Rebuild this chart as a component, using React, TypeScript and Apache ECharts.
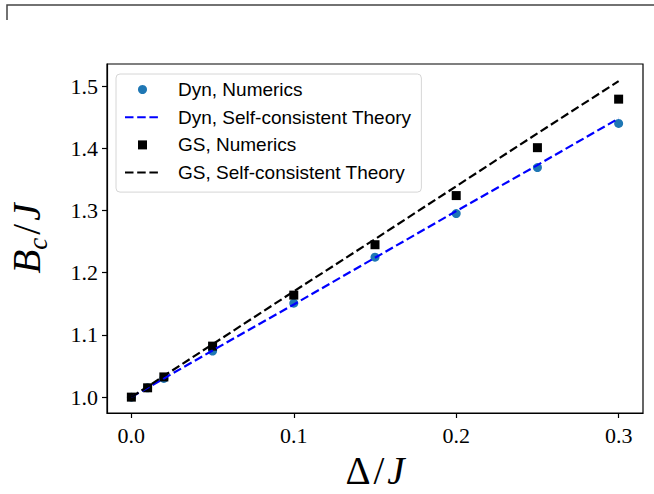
import React, { useEffect, useRef } from "react";
import * as echarts from "echarts";

const xVals = [0, 0.01, 0.02, 0.05, 0.1, 0.15, 0.2, 0.25, 0.3];
const dynNumerics = [1.0, 1.015, 1.03, 1.074, 1.151, 1.225, 1.295, 1.369, 1.44];
const gsNumerics = [1.0, 1.015, 1.0325, 1.082, 1.164, 1.245, 1.324, 1.401, 1.479];
const dynTheory = [1.0, 1.015, 1.03, 1.075, 1.149, 1.224, 1.299, 1.373, 1.448];
const gsTheory = [1.0, 1.017, 1.034, 1.085, 1.17, 1.254, 1.339, 1.424, 1.508];
const xTicks = [0, 0.1, 0.2, 0.3];
const yTicks = [1.0, 1.1, 1.2, 1.3, 1.4, 1.5];
const seriesNames = [
  "Dyn, Numerics",
  "Dyn, Self-consistent Theory",
  "GS, Numerics",
  "GS, Self-consistent Theory",
];

const pair = (ys: number[]) => xVals.map((x, i) => [x, ys[i]]);

export default function App() {
  const ref = useRef<HTMLDivElement>(null);
  useEffect(() => {
    if (!ref.current) return;
    const chart = echarts.init(ref.current, undefined, { renderer: "svg" });
    const serif = "'Liberation Serif', serif";
    const nameSize = 39;
    chart.setOption({
      animation: false,
      backgroundColor: "#fff",
      grid: {
        left: 107,
        right: 11,
        top: 64,
        bottom: 81,
        show: true,
        borderColor: "#000",
        borderWidth: 1.2,
        outerBoundsMode: "none",
      },
      legend: {
        orient: "vertical",
        left: 116,
        top: 74,
        padding: [6, 10, 10, 8],
        itemWidth: 35,
        itemHeight: 9,
        itemGap: 8.7,
        backgroundColor: "rgba(255,255,255,0.8)",
        borderColor: "#d6d6d6",
        borderWidth: 1,
        borderRadius: 4,
        symbolKeepAspect: true,
        textStyle: {
          fontFamily: "'Liberation Sans', Arial, sans-serif",
          fontSize: 19,
          color: "#000",
          padding: [0, 0, 0, 13],
        },
        data: [
          { name: seriesNames[0], icon: "circle" },
          { name: seriesNames[1], itemStyle: { opacity: 0 } },
          { name: seriesNames[2], icon: "path://M0,0H10V10H0Z" },
          { name: seriesNames[3], itemStyle: { opacity: 0 } },
        ],
      },
      xAxis: {
        type: "value",
        min: -0.015,
        max: 0.315,
        name: "{u|Δ}{s|/}{i|J}",
        nameLocation: "middle",
        nameGap: 30,
        nameTextStyle: {
          rich: {
            u: { fontFamily: serif, fontSize: nameSize, color: "#000" },
            s: { fontFamily: serif, fontSize: nameSize, color: "#000", padding: [0, 3, 0, 3] },
            i: { fontFamily: serif, fontSize: nameSize, fontStyle: "italic", color: "#000" },
          },
        },
        axisLine: { show: true, onZero: false, lineStyle: { color: "#000", width: 1.2 } },
        axisTick: { show: true, length: 5, customValues: xTicks, lineStyle: { color: "#000", width: 1.2 } },
        axisLabel: {
          customValues: xTicks,
          formatter: (v: number) => v.toFixed(1),
          fontFamily: serif,
          fontSize: 22,
          color: "#000",
          margin: 11,
        },
        splitLine: { show: false },
      },
      yAxis: {
        type: "value",
        min: 0.9745,
        max: 1.5355,
        name: "{i|B}{c|c}{s|/}{i|J}",
        nameLocation: "middle",
        nameGap: 56,
        nameRotate: 90,
        nameTextStyle: {
          rich: {
            s: { fontFamily: serif, fontSize: nameSize, color: "#000", padding: [0, 3, 0, 3] },
            i: { fontFamily: serif, fontSize: nameSize, fontStyle: "italic", color: "#000" },
            c: {
              fontFamily: serif,
              fontSize: 27,
              fontStyle: "italic",
              color: "#000",
              padding: [22, 0, 0, 0],
            },
          },
        },
        axisLine: { show: true, onZero: false, lineStyle: { color: "#000", width: 1.2 } },
        axisTick: { show: true, length: 5, customValues: yTicks, lineStyle: { color: "#000", width: 1.2 } },
        axisLabel: {
          customValues: yTicks,
          formatter: (v: number) => v.toFixed(1),
          fontFamily: serif,
          fontSize: 22,
          color: "#000",
          margin: 9,
        },
        splitLine: { show: false },
      },
      graphic: [
        {
          type: "polyline",
          shape: { points: [[7, 20], [7, 5], [654, 5]] },
          style: { stroke: "#444", lineWidth: 1.5, fill: null },
        },
      ],
      series: [
        {
          name: seriesNames[0],
          type: "scatter",
          data: pair(dynNumerics),
          symbol: "circle",
          symbolSize: 9,
          itemStyle: { color: "#1f77b4", opacity: 1 },
          emphasis: { disabled: true },
        },
        {
          name: seriesNames[1],
          type: "line",
          data: pair(dynTheory),
          symbol: "none",
          lineStyle: { color: "#0000ff", width: 2.2, type: [8.5, 3.7] },
          itemStyle: { color: "#0000ff" },
          emphasis: { disabled: true },
        },
        {
          name: seriesNames[2],
          type: "scatter",
          data: pair(gsNumerics),
          symbol: "rect",
          symbolSize: 9,
          itemStyle: { color: "#000", opacity: 1 },
          emphasis: { disabled: true },
        },
        {
          name: seriesNames[3],
          type: "line",
          data: pair(gsTheory),
          symbol: "none",
          lineStyle: { color: "#000", width: 2.2, type: [8.5, 3.7] },
          itemStyle: { color: "#000" },
          emphasis: { disabled: true },
        },
      ],
    });
    return () => chart.dispose();
  }, []);
  return (
    <div
      ref={ref}
      style={{ position: "fixed", left: 0, top: 0, width: 654, height: 494 }}
    />
  );
}
